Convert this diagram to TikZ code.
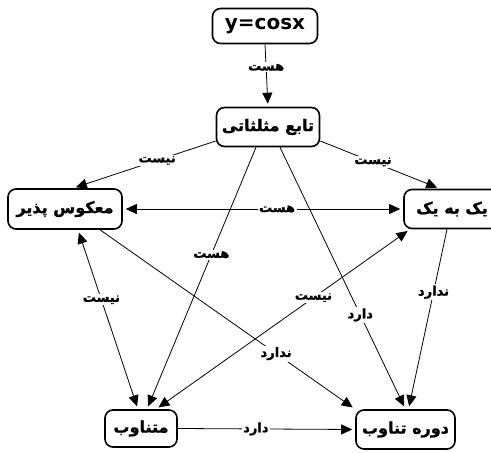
\documentclass[tikz,border=0pt]{standalone}
\usepackage{fontspec}
\setmainfont{DejaVu Sans}
\newfontfamily\fa[Script=Arabic, BoldFeatures={FakeBold=1.2}]{DejaVu Sans}
\TeXXeTstate=1
\usetikzlibrary{arrows.meta}
\newcommand{\fatxt}[1]{{\fa\bfseries\beginR #1\endR}}

\begin{document}
\begin{tikzpicture}[x=1pt, y=-1pt,
  box/.style={draw, line width=1.6pt, rounded corners=8pt, fill=white, inner sep=2pt,
              font=\fontsize{16}{18}\selectfont\bfseries},
  arr/.style={line width=0.8pt, -{Triangle[length=11pt,width=10pt]}, shorten >=3pt},
  barr/.style={line width=0.8pt, {Triangle[length=11pt,width=10pt]}-{Triangle[length=11pt,width=10pt]},
               shorten >=3pt, shorten <=3pt},
  lbl/.style={fill=white, inner sep=1.5pt, font=\fontsize{13}{15}\selectfont\bfseries}]
  \clip (0,0) rectangle (491,453);
  \useasboundingbox (0,0) rectangle (491,453);

  % concept boxes
  \node[box, minimum width=105pt, minimum height=35pt, font=\fontsize{20}{22}\selectfont\bfseries]
        (cos)  at (265,26)    {y=cosx};
  \node[box, minimum width=103pt, minimum height=39pt] (tabe) at (268,127)   {\fatxt{تابع مثلثاتی}};
  \node[box, minimum width=114pt, minimum height=40pt] (makus) at (65,209)   {\fatxt{معکوس پذیر}};
  \node[box, minimum width=96pt,  minimum height=39pt] (yek)  at (452,209)   {\fatxt{یک به یک}};
  \node[box, minimum width=72pt,  minimum height=37pt] (mota) at (141,428.5) {\fatxt{متناوب}};
  \node[box, minimum width=99pt,  minimum height=39pt] (dore) at (405.5,429.5) {\fatxt{دوره تناوب}};

  % relations
  \draw[arr] (cos.south) -- node[lbl, pos=0.37] {\fatxt{هست}} (tabe.north);
  \draw[arr] ([yshift=-14pt]tabe.west) -- node[lbl, pos=0.41] {\fatxt{نیست}} ([xshift=8pt]makus.north);
  \draw[arr] ([yshift=-14pt]tabe.east) -- node[lbl, pos=0.44] {\fatxt{نیست}} ([xshift=-12pt]yek.north);
  \draw[barr] (makus.east) -- node[lbl, pos=0.55] {\fatxt{هست}} (yek.west);
  \draw[arr] ([xshift=-12pt]tabe.south) -- node[lbl, pos=0.41] {\fatxt{هست}} ([xshift=6pt]mota.north);
  \draw[arr] ([xshift=12pt]tabe.south) -- node[lbl, pos=0.64] {\fatxt{دارد}} (dore.north);
  \draw[barr] ([xshift=13pt]makus.south) -- node[lbl, pos=0.39] {\fatxt{نیست}} ([xshift=-3pt]mota.north);
  \draw[barr] ([xshift=-42pt]yek.south) -- node[lbl, pos=0.38] {\fatxt{نیست}} ([xshift=15pt]mota.north);
  \draw[arr] ([xshift=35pt]makus.south) -- node[lbl, pos=0.69] {\fatxt{ندارد}} (dore.north west);
  \draw[arr] ([xshift=-5pt]yek.south) -- node[lbl, pos=0.35] {\fatxt{ندارد}} ([xshift=3pt]dore.north);
  \draw[arr] (mota.east) -- node[lbl, pos=0.44] {\fatxt{دارد}} (dore.west);
\end{tikzpicture}
\end{document}
